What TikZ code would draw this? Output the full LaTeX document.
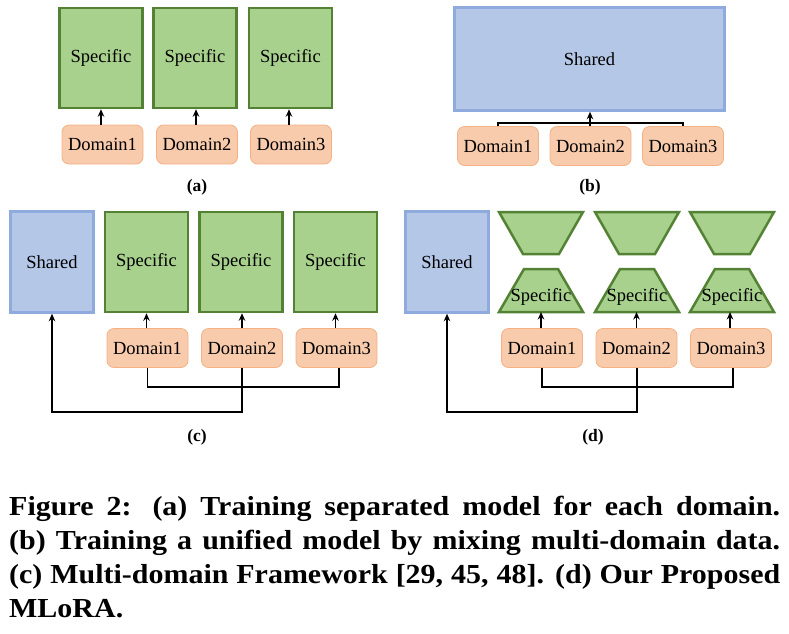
\documentclass[tikz,border=0pt]{standalone}
\usepackage{fontspec}
\setmainfont{Liberation Serif}
\newfontfamily\dfont{Liberation Serif}
\newfontfamily\capfont[FakeStretch=1.09]{Liberation Serif}
\usetikzlibrary{arrows.meta}
\definecolor{gfill}{HTML}{A9D18E}
\definecolor{gdraw}{HTML}{548235}
\definecolor{bfill}{HTML}{B4C7E7}
\definecolor{bdraw}{HTML}{8FAADC}
\definecolor{ofill}{HTML}{F8CBAD}
\definecolor{odraw}{HTML}{F4B183}
\tikzset{
  dtext/.style={font=\dfont\fontsize{18.5}{22}\selectfont},
  spec/.style={dtext, draw=gdraw, fill=gfill, line width=2.5pt, minimum width=83pt, minimum height=100pt, inner sep=0pt},
  shr/.style={dtext, draw=bdraw, fill=bfill, line width=2.5pt, inner sep=0pt},
  dom/.style={dtext, draw=odraw, fill=ofill, line width=0.8pt, rounded corners=7pt, minimum width=81pt, minimum height=39pt, inner sep=0pt},
  trap/.style={draw=gdraw, fill=gfill, line width=2.5pt, line join=miter},
  conn/.style={line width=1.8pt, black},
  arr/.style={conn, -{Stealth[length=7.5pt,width=6.5pt]}},
  plab/.style={font=\dfont\bfseries\fontsize{17.5}{20}\selectfont},
  capline/.style={anchor=base west, inner sep=0pt, font=\capfont\bfseries\fontsize{27.5}{34}\selectfont}
}
\begin{document}
\begin{tikzpicture}[x=1pt, y=-1pt]
\useasboundingbox (0,0) rectangle (789,633);

% ---------- (a) ----------
\node[spec] (sa1) at (101,58) {Specific};
\node[spec] (sa2) at (195,58) {Specific};
\node[spec] (sa3) at (290.5,58) {Specific};
\node[dom] (da1) at (102.5,144.5) {Domain1};
\node[dom] (da2) at (197,144.5) {Domain2};
\node[dom] (da3) at (291,144.5) {Domain3};
\draw[arr] ([xshift=-1.5]da1.north) -- ([xshift=-1.5]da1.north |- sa1.south);
\draw[arr] ([xshift=-1]da2.north) -- ([xshift=-1]da2.north |- sa2.south);
\draw[arr] ([xshift=-2]da3.north) -- ([xshift=-2]da3.north |- sa3.south);
\node[plab] (la) at (197,187) {(a)};

% ---------- (b) ----------
\node[shr, minimum width=270pt, minimum height=103pt] (sb) at (589.5,59) {Shared};
\node[dom] (db1) at (498,146) {Domain1};
\node[dom] (db2) at (590.5,146) {Domain2};
\node[dom] (db3) at (683,146) {Domain3};
\draw[conn] (db1.north) -- ++(0,-3) -| (db3.north);
\draw[arr] ([xshift=-0.5]db2.north) -- ([xshift=-0.5]db2.north |- sb.south);
\node[plab] (lb) at (590,187) {(b)};

% ---------- (c) ----------
\node[shr, minimum width=83pt, minimum height=101pt] (shc) at (52,262) {Shared};
\node[spec] (sc1) at (146.5,262) {Specific};
\node[spec] (sc2) at (241,262) {Specific};
\node[spec] (sc3) at (335.5,262) {Specific};
\node[dom] (dc1) at (147.5,348) {Domain1};
\node[dom] (dc2) at (242,348) {Domain2};
\node[dom] (dc3) at (336.5,348) {Domain3};
\draw[arr] ([xshift=-1]dc1.north) -- ([xshift=-1]dc1.north |- sc1.south);
\draw[arr] (dc2.north) -- (dc2.north |- sc2.south);
\draw[arr] ([xshift=-1]dc3.north) -- ([xshift=-1]dc3.north |- sc3.south);
\draw[conn] (dc1.south) -- ++(0,19) -| ([xshift=2.5]dc3.south);
\draw[arr] (dc2.south) -- ++(0,44) -| (shc.south);
\node[plab] (lc) at (197,437) {(c)};

% ---------- (d) ----------
\node[shr, minimum width=83pt, minimum height=101pt] (shd) at (447,262) {Shared};
\foreach \cx/\i in {541/1,637/2,732/3}{
  \draw[trap] (\cx-42,212) -- (\cx+42,212) -- (\cx+18,254) -- (\cx-18,254) -- cycle;
  \draw[trap] (\cx-17,269) -- (\cx+17,269) -- (\cx+42,312) -- (\cx-42,312) -- cycle;
  \coordinate (tb\i) at (\cx,312);
  \node[dtext, inner sep=0pt] (ts\i) at (\cx,297) {Specific};
}
\node[dom] (dd1) at (542,348) {Domain1};
\node[dom] (dd2) at (636.5,348) {Domain2};
\node[dom] (dd3) at (731,348) {Domain3};
\draw[arr] ([xshift=-1]dd1.north) -- ([xshift=-1]dd1.north |- tb1);
\draw[arr] (dd2.north) -- (dd2.north |- tb2);
\draw[arr] ([xshift=-1]dd3.north) -- ([xshift=-1]dd3.north |- tb3);
\draw[conn] (dd1.south) -- ++(0,19) -| ([xshift=2]dd3.south);
\draw[arr] ([xshift=0.5]dd2.south) -- ++(0,44) -| (shd.south);
\node[plab] (ld) at (593,437) {(d)};

% ---------- caption ----------
\node[capline] (c1) at (9,515) {\makebox[771pt][s]{Figure 2: (a) Training separated model for each domain.}};
\node[capline] (c2) at (9,549) {\makebox[771pt][s]{(b) Training a unified model by mixing multi-domain data.}};
\node[capline] (c3) at (9,583) {\makebox[771pt][s]{(c) Multi-domain Framework [29, 45, 48]. (d) Our Proposed}};
\node[capline] (c4) at (9,617) {MLoRA.};
\end{tikzpicture}
\end{document}
